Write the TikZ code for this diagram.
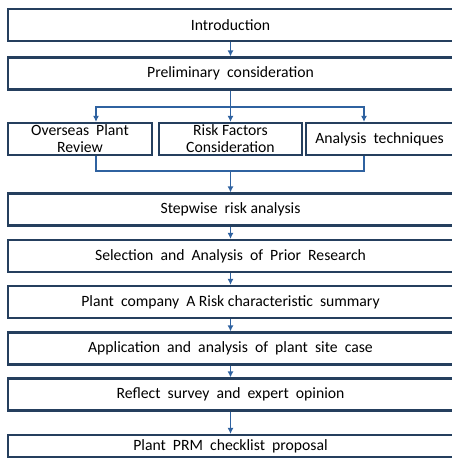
\documentclass[tikz,border=0pt]{standalone}
\usepackage{fontspec}
\setmainfont{Carlito}
\usetikzlibrary{arrows.meta}

\definecolor{boxline}{HTML}{253F5E}
\definecolor{linkblue}{HTML}{2F62A0}

\tikzset{
  stage/.style={draw=boxline, line width=2.2pt, minimum height=32pt, inner sep=0pt,
    font=\fontsize{15.7}{17}\selectfont, align=center},
  wide/.style={stage, minimum width=445pt},
  link/.style={draw=linkblue, line width=1.6pt, -{Latex[length=6pt,width=6pt]}},
  wire/.style={draw=linkblue, line width=1.6pt}
}

\begin{document}
\begin{tikzpicture}[x=1pt, y=-1pt]
    \useasboundingbox (0,0) rectangle (452,458);

    % Main stages
    \node[wide] (intro) at (230.5,25) {Introduction};
    \node[wide] (prelim) at (230.5,73.5) {Preliminary\ \ consideration};

    % Three parallel reviews
    \node[stage, minimum width=144pt] (overseas) at (80,139) {Overseas\ \ Plant\\Review};
    \node[stage, minimum width=143pt] (factors) at (230.5,139) {Risk Factors\\Consideration};
    \node[stage, minimum width=147pt] (techniques) at (379.5,139) {Analysis\ \ techniques};

    % Lower stages
    \node[wide] (stepwise) at (230.5,209.5) {Stepwise\ \ risk analysis};
    \node[wide] (prior) at (230.5,256) {Selection\ \ and\ \ Analysis\ \ of\ \ Prior\ \ Research};
    \node[wide] (summary) at (230.5,302) {Plant\ \ company\ \ A Risk characteristic\ \ summary};
    \node[wide] (sitecase) at (230.5,348.5) {Application\ \ and\ \ analysis\ \ of\ \ plant\ \ site\ \ case};
    \node[wide] (survey) at (230.5,394.5) {Reflect\ \ survey\ \ and\ \ expert\ \ opinion};
    \node[wide, minimum height=22pt] (checklist) at (230.5,446) {Plant\ \ PRM\ \ checklist\ \ proposal};

    % Split and join points
    \coordinate (split) at (230.5,107);
    \coordinate (join) at (230.5,171);

    % Connectors
    \draw[link] (intro) -- (prelim);
    \draw[wire] (prelim) -- (split);
    \draw[link] (split) -| ([xshift=16pt]overseas.north);
    \draw[link] (split) -- (factors);
    \draw[link] (split) -| ([xshift=-15.5pt]techniques.north);
    \draw[wire] ([xshift=16pt]overseas.south) |- (join);
    \draw[wire] ([xshift=-15.5pt]techniques.south) |- (join);
    \draw[link] (join) -- (stepwise);
    \draw[link] (stepwise) -- (prior);
    \draw[link] (prior) -- (summary);
    \draw[link] (summary) -- (sitecase);
    \draw[link] (sitecase) -- (survey);
    \draw[link] (survey) -- (checklist);
\end{tikzpicture}
\end{document}
